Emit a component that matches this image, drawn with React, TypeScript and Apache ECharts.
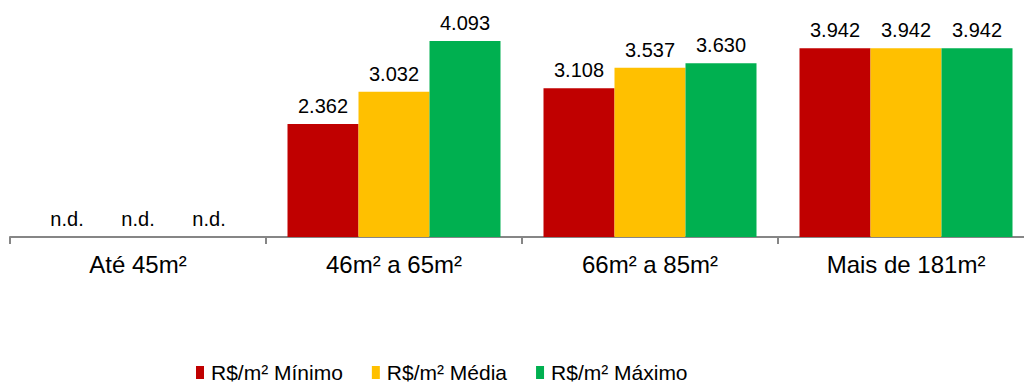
import React, { useEffect, useRef } from "react";
import * as echarts from "echarts";

const categories = ["Até 45m²", "46m² a 65m²", "66m² a 85m²", "Mais de 181m²"];
const seriesNames = ["R$/m² Mínimo", "R$/m² Média", "R$/m² Máximo"];
const minimo = [0, 2362, 3108, 3942];
const media = [0, 3032, 3537, 3942];
const maximo = [0, 4093, 3630, 3942];
const colors = ["#C00000", "#FFC000", "#00B050"];

const fmt = (v: number) => {
  if (!v) return "n.d.";
  const s = String(Math.round(v));
  return s.replace(/\B(?=(\d{3})+(?!\d))/g, ".");
};

export default function App() {
  const ref = useRef<HTMLDivElement>(null);
  useEffect(() => {
    if (!ref.current) return;
    const chart = echarts.init(ref.current, undefined, { renderer: "svg" });
    const font = "'Liberation Sans', Arial, sans-serif";
    const data = [minimo, media, maximo];
    chart.setOption({
      animation: false,
      textStyle: { fontFamily: font },
      grid: { left: 10, top: 0, width: 1024, height: 237, containLabel: false },
      legend: {
        left: 191,
        top: 357,
        itemWidth: 8,
        itemHeight: 13,
        itemGap: 29,
        icon: "rect",
        textStyle: { fontSize: 21, color: "#000", fontFamily: font, padding: [0, 0, 0, 2] },
        data: seriesNames,
      },
      xAxis: {
        type: "category",
        data: categories,
        axisLine: { lineStyle: { color: "#868686", width: 2 } },
        axisTick: { show: true, length: 7, lineStyle: { color: "#868686", width: 2 } },
        axisLabel: { fontSize: 24, color: "#000", margin: 15, fontFamily: font },
      },
      yAxis: {
        type: "value",
        min: 0,
        max: 4950,
        show: false,
        splitLine: { show: false },
      },
      series: seriesNames.map((name, i) => ({
        name,
        type: "bar",
        data: data[i],
        barWidth: 71,
        barGap: "0%",
        itemStyle: { color: colors[i] },
        label: {
          show: true,
          position: "top",
          distance: 8,
          fontSize: 20,
          color: "#000",
          fontFamily: font,
          formatter: (p: any) => fmt(p.value),
        },
      })),
    });
    return () => chart.dispose();
  }, []);
  return (
    <div
      style={{ position: "fixed", left: 0, top: 0, width: 1024, height: 383, overflow: "hidden", background: "#fff" }}
    >
      <div ref={ref} style={{ width: 1044, height: 383 }} />
    </div>
  );
}
